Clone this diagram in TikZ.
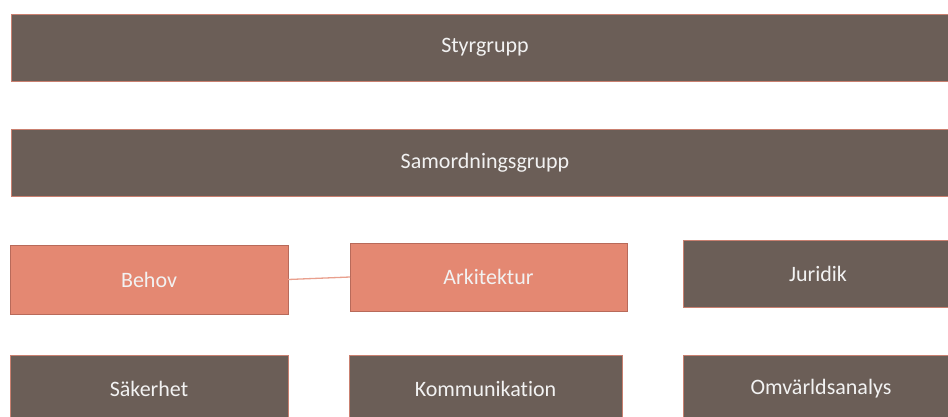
\documentclass[tikz,border=0pt]{standalone}
\usepackage{fontspec}
\setmainfont[Ligatures={NoCommon}]{Carlito}
\usetikzlibrary{positioning}

\definecolor{boxbrown}{HTML}{6B5E57}
\definecolor{boxsalmon}{HTML}{E48872}
\definecolor{rimsalmon}{HTML}{C98070}
\definecolor{rimdark}{HTML}{B86A5A}
\definecolor{textlight}{HTML}{F2F2F2}

\begin{document}
\begin{tikzpicture} [
						x=1pt, y=-1pt,
						box/.style={rectangle, draw=rimsalmon, line width=0.9pt, fill=boxbrown,
							text=textlight, font=\fontsize{22}{26}\selectfont,
							inner sep=0pt, outer sep=0pt},
						hot/.style={box, fill=boxsalmon, draw=rimdark}
					]

\useasboundingbox (0,0) rectangle (948,416);

\node (styr)   [box, minimum width=948pt, minimum height=67pt] at (485,47.5) {Styrgrupp};
\node (samord) [box, minimum width=948pt, minimum height=67pt] at (485,162.5) {Samordningsgrupp};

\node (behov)      [hot, minimum width=278pt, minimum height=69pt] at (149,279.5) {Behov};
\node (arkitektur) [hot, minimum width=277pt, minimum height=68pt] at (488.5,277) {Arkitektur};
\node (juridik)    [box, minimum width=270pt, minimum height=67pt] at (818,273.5) {Juridik};

\node (sakerhet)      [box, minimum width=278pt, minimum height=67pt] at (149,388.5) {Säkerhet};
\node (kommunikation) [box, minimum width=273pt, minimum height=67pt] at (485.5,388.5) {Kommunikation};
\node (omvarld)       [box, minimum width=276pt, minimum height=67pt] at (821,388.5) {Omvärldsanalys};

\draw[boxsalmon!80!white, line width=1.3pt] (behov.east) -- (arkitektur.west);

\end{tikzpicture}
\end{document}
